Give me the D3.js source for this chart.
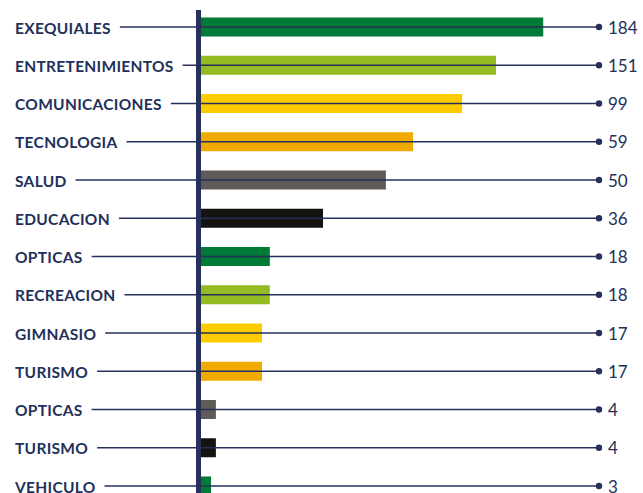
<!DOCTYPE html>
<html>
<head>
<meta charset="utf-8">
<script src="https://cdn.jsdelivr.net/npm/d3@7"></script>
<style>
  body { margin: 0; background: #fff; }
  svg { display: block; }
</style>
</head>
<body>
<div id="myChart"></div>
<script>
// categories and the numbers printed at the right
const categories = ["EXEQUIALES", "ENTRETENIMIENTOS", "COMUNICACIONES", "TECNOLOGIA", "SALUD",
  "EDUCACION", "OPTICAS", "RECREACION", "GIMNASIO", "TURISMO", "OPTICAS", "TURISMO", "VEHICULO"]
const values = [184, 151, 99, 59, 50, 36, 18, 18, 17, 17, 4, 4, 3]
// the bars in the picture are not drawn to the printed values, these are read off the bars
const barValues = [92, 79.3, 70.2, 57, 49.7, 32.8, 18.5, 18.5, 16.4, 16.4, 4, 4, 2.7]
const barColors = ["#007a37", "#95bb22", "#fdcc00", "#f0aa00", "#5f5b56", "#15130f"]

let width = 643
let height = 493
const navy = "#26305a"

let svg = d3.select("#myChart")
  .append("svg")
  .attr("width", width)
  .attr("height", height)

let x = d3.scaleLinear()
  .domain([0, 100])
  .range([201, 573])

let y = d3.scalePoint()
  .domain(d3.range(categories.length))
  .range([27, 486])

const dotX = 599

// bars
svg.append("g")
  .selectAll("rect")
  .data(barValues)
  .enter().append("rect")
  .attr("x", x(0))
  .attr("y", (d, i) => y(i) - 9.5)
  .attr("width", d => x(d) - x(0))
  .attr("height", 19)
  .attr("fill", (d, i) => barColors[i % barColors.length])

// labels
let labels = svg.append("g")
  .selectAll("text")
  .data(categories)
  .enter().append("text")
  .attr("x", 15)
  .attr("y", (d, i) => y(i) + 6.5)
  .attr("fill", "#22305a")
  .style("font-family", "Lato, sans-serif")
  .style("font-weight", 700)
  .style("font-size", "15.5px")
  .style("letter-spacing", "0.3px")
  .text(d => d)

// leader lines from label to dot
let lineStart = []
labels.each(function(d, i) {
  lineStart[i] = 15 + this.getComputedTextLength() + 9
})

svg.append("g")
  .selectAll("line")
  .data(values)
  .enter().append("line")
  .attr("x1", (d, i) => lineStart[i])
  .attr("x2", dotX)
  .attr("y1", (d, i) => y(i))
  .attr("y2", (d, i) => y(i))
  .attr("stroke", navy)
  .attr("stroke-width", 1.4)

svg.append("g")
  .selectAll("circle")
  .data(values)
  .enter().append("circle")
  .attr("cx", dotX)
  .attr("cy", (d, i) => y(i))
  .attr("r", 3.2)
  .attr("fill", navy)

// values
svg.append("g")
  .selectAll("text")
  .data(values)
  .enter().append("text")
  .attr("x", 608)
  .attr("y", (d, i) => y(i) + 6.5)
  .attr("fill", "#22305a")
  .style("font-family", "Lato, sans-serif")
  .style("font-size", "17px")
  .text(d => d)

// thick vertical axis
svg.append("rect")
  .attr("x", 196)
  .attr("y", 10)
  .attr("width", 5)
  .attr("height", height - 10)
  .attr("fill", navy)
</script>
</body>
</html>
